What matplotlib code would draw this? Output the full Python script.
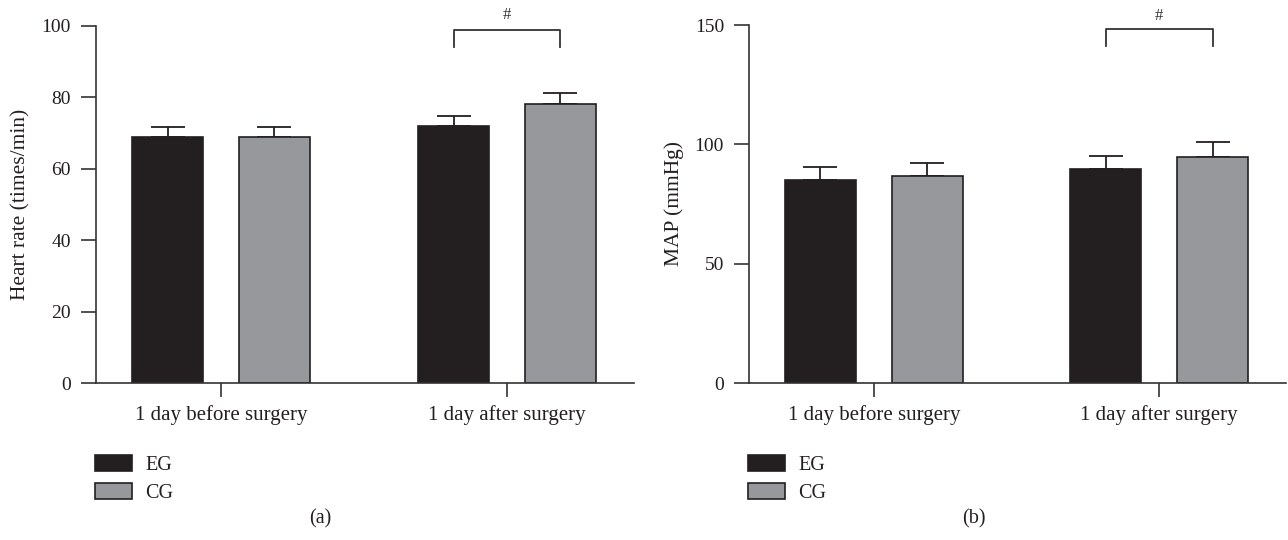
import numpy as np
import matplotlib.pyplot as plt
from matplotlib.patches import Patch

categories = ["1 day before surgery", "1 day after surgery"]
groups = ["EG", "CG"]

hr_eg = [69.0, 72.1]
hr_cg = [69.0, 78.2]
hr_eg_err = [2.7, 2.8]
hr_cg_err = [2.8, 3.0]

map_eg = [85.1, 89.5]
map_cg = [86.9, 94.8]
map_eg_err = [5.5, 5.6]
map_cg_err = [5.2, 6.0]

dark = "#231f20"
grey = "#97989c"
line_col = "#333333"

plt.rcParams["font.family"] = ["Liberation Serif", "DejaVu Serif"]

fig = plt.figure(figsize=(12.88, 5.4), dpi=100)
ax_a = fig.add_axes([96 / 1288, 1 - 383 / 540, 538 / 1288, 357 / 540])
ax_b = fig.add_axes([749 / 1288, 1 - 383 / 540, 537 / 1288, 358 / 540])

x = np.arange(len(categories))
w = 0.248
off = 0.187


def draw_panel(ax, eg, cg, eg_err, cg_err, ymax, step, ylabel, br_top, br_bot, hash_y):
    for vals, errs, col, sign in [(eg, eg_err, dark, -1), (cg, cg_err, grey, 1)]:
        pos = x + sign * off
        ax.bar(pos, vals, width=w, color=col, edgecolor=dark, linewidth=1.2, zorder=2)
        ax.errorbar(pos, vals, yerr=[np.zeros(len(errs)), errs], fmt="none",
                    ecolor=dark, elinewidth=1.3, capsize=12.5, capthick=1.3, zorder=1)
    # significance bracket over second category
    x0, x1 = x[1] - off, x[1] + off
    ax.plot([x0, x0, x1, x1], [br_bot, br_top, br_top, br_bot], color=line_col,
            linewidth=1.3, clip_on=False)
    ax.text(x[1], hash_y, "#", ha="center", va="center", fontsize=12, color=line_col)

    ax.set_xlim(-0.437, 1.444)
    ax.set_ylim(0, ymax)
    ax.set_yticks(np.arange(0, ymax + 1, step))
    ax.set_xticks(x)
    ax.set_xticklabels(categories)
    ax.set_ylabel(ylabel, fontsize=15.5, color=dark, labelpad=8)
    for s in ["top", "right"]:
        ax.spines[s].set_visible(False)
    for s in ["left", "bottom"]:
        ax.spines[s].set_color(line_col)
        ax.spines[s].set_linewidth(1.2)
    ax.tick_params(axis="y", direction="out", length=11, width=1.2, pad=7,
                   labelsize=14, colors=line_col, labelcolor=dark)
    ax.tick_params(axis="x", direction="out", length=10, width=1.2, pad=6,
                   labelsize=15, colors=line_col, labelcolor=dark)


draw_panel(ax_a, hr_eg, hr_cg, hr_eg_err, hr_cg_err, 100, 20,
           "Heart rate (times/min)", 98.9, 94.2, 103.0)
draw_panel(ax_b, map_eg, map_cg, map_eg_err, map_cg_err, 150, 50,
           "MAP (mmHg)", 148.4, 141.3, 153.8)

handles = [Patch(facecolor=dark, edgecolor=dark, linewidth=1.2),
           Patch(facecolor=grey, edgecolor=dark, linewidth=1.2)]
for lx in [95 / 1288, 748 / 1288]:
    fig.legend(handles, groups, loc="upper left", bbox_to_anchor=(lx, 1 - 455 / 540),
               frameon=False, fontsize=14.5, handlelength=1.85, handleheight=0.85,
               handletextpad=0.65, labelspacing=0.4, borderpad=0, borderaxespad=0,
               labelcolor=dark)

fig.text(320 / 1288, 1 - 519 / 540, "(a)", ha="center", va="center", fontsize=14.5, color=dark)
fig.text(974 / 1288, 1 - 519 / 540, "(b)", ha="center", va="center", fontsize=14.5, color=dark)

fig.savefig("out.png", dpi=100)
